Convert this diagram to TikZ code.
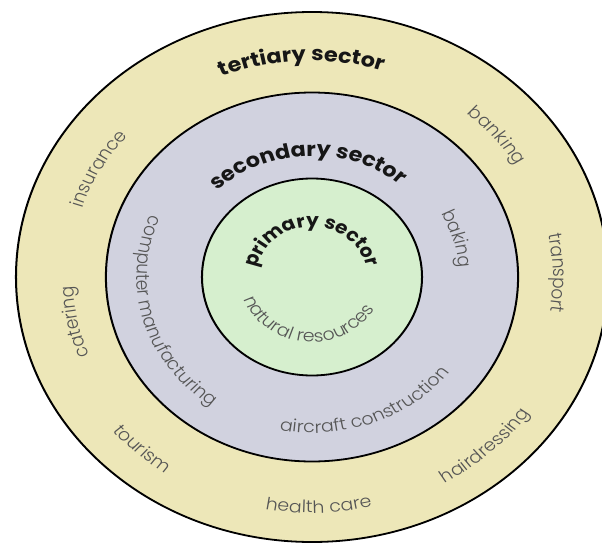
\documentclass[tikz,border=0pt]{standalone}
\usepackage{fontspec}
\newfontfamily\ringfont{Poppins}
\newfontfamily\ringlightfont{Poppins}[UprightFont={* Light}]
\usetikzlibrary{decorations.text}

\definecolor{tertiaryfill}{RGB}{237,231,184}
\definecolor{secondaryfill}{RGB}{209,210,223}
\definecolor{primaryfill}{RGB}{214,239,206}
\definecolor{labelgray}{RGB}{85,85,85}
\definecolor{headblack}{RGB}{22,22,22}

\newcommand\headfont{\ringfont\bfseries\fontsize{20}{20}\selectfont}
\newcommand\primfont{\ringfont\bfseries\fontsize{18}{18}\selectfont}
\newcommand\itemfont{\ringlightfont\fontsize{17}{17}\selectfont}

% text set on a circular arc round the centre:
% #1 centre angle, #2 baseline radius (pt), #3 half span (deg), #4 formatted text, #5 colour
% clockwise: letters stand outwards
\newcommand\ringtextcw[5]{%
  \path[decorate,decoration={text along path,text align=center,text color=#5,text={#4}}]
    ({#1+#3}:#2pt) arc[start angle={#1+#3},end angle={#1-#3},radius=#2pt];}
% counter-clockwise: letters stand inwards
\newcommand\ringtextccw[5]{%
  \path[decorate,decoration={text along path,text align=center,text color=#5,text={#4}}]
    ({#1-#3}:#2pt) arc[start angle={#1-#3},end angle={#1+#3},radius=#2pt];}

\tikzset{ring/.style={draw=black,line width=1.8pt}}

\begin{document}
\begin{tikzpicture}
\useasboundingbox (-312pt,-267pt) rectangle (290pt,277pt);
\clip (-312pt,-267pt) rectangle (290pt,277pt);
\begin{scope}[transform canvas={xscale=1.117}]
  \coordinate (c) at (0,0);
  % the three sectors
  \filldraw[ring,fill=tertiaryfill]  (c) circle[radius=265pt];
  \filldraw[ring,fill=secondaryfill] (c) circle[radius=184.5pt];
  \filldraw[ring,fill=primaryfill]   (c) circle[radius=98.5pt];

  % tertiary sector
  \ringtextcw{92.5}{216}{60}{|\headfont|tertiary sector}{headblack}
  \ringtextcw{40.5}{214}{40}{|\itemfont|banking}{labelgray}
  \ringtextcw{1}{216}{40}{|\itemfont|transport}{labelgray}
  \ringtextcw{150.5}{217}{40}{|\itemfont|insurance}{labelgray}
  \ringtextcw{192}{214}{40}{|\itemfont|catering}{labelgray}
  \ringtextccw{228.5}{236}{40}{|\itemfont|tourism}{labelgray}
  \ringtextccw{271.5}{236}{40}{|\itemfont|health care}{labelgray}
  \ringtextccw{312.5}{238}{40}{|\itemfont|hairdressing}{labelgray}

  % secondary sector
  \ringtextcw{92}{121}{60}{|\headfont|secondary sector}{headblack}
  \ringtextccw{196}{157}{60}{|\itemfont|computer manufacturing}{labelgray}
  \ringtextccw{290.7}{156}{60}{|\itemfont|aircraft construction}{labelgray}
  \ringtextcw{16.5}{132}{40}{|\itemfont|baking}{labelgray}

  % primary sector
  \ringtextcw{90.5}{50}{88}{|\primfont|primary sector}{headblack}
  \ringtextccw{265}{65}{85}{|\itemfont|natural resources}{labelgray}
\end{scope}
\end{tikzpicture}
\end{document}
